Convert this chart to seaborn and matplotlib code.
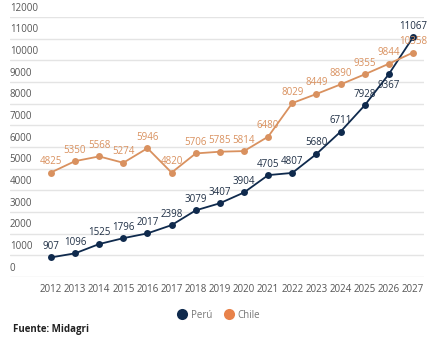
import matplotlib
matplotlib.use("Agg")
import matplotlib.pyplot as plt
from matplotlib.lines import Line2D
import seaborn as sns
import pandas as pd

years = list(range(2012, 2028))
peru = [907, 1096, 1525, 1796, 2017, 2398, 3079, 3407, 3904, 4705, 4807, 5680, 6711, 7928, 9367, 11067]
chile = [4825, 5350, 5568, 5274, 5946, 4820, 5706, 5785, 5814, 6480, 8029, 8449, 8890, 9355, 9844, 10358]
y_ticks = [0, 1000, 2000, 3000, 4000, 5000, 6000, 7000, 8000, 9000, 10000, 11000, 12000]
series_names = ["Perú", "Chile"]

PERU_C = "#0f2a4d"
CHILE_C = "#d9915f"
CHILE_LEGEND = "#e8824a"

sns.set_theme(style="white")
plt.rcParams["font.family"] = ["Open Sans", "DejaVu Sans"]

df = pd.DataFrame({
    "year": years * 2,
    "value": peru + chile,
    "pais": [series_names[0]] * len(years) + [series_names[1]] * len(years),
})

fig = plt.figure(figsize=(4.46, 3.40), dpi=100)
ax = fig.add_axes([0.022, 0.185, 0.929, 0.765])

sns.lineplot(data=df, x="year", y="value", hue="pais",
             palette={"Perú": PERU_C, "Chile": CHILE_C},
             marker="o", markersize=5, markeredgewidth=0, linewidth=1.3,
             legend=False, ax=ax, zorder=3)

ax.set_xlim(2010.3, 2027.46)
ax.set_ylim(0, 12000)
for v in y_ticks:
    ax.axhline(v, color="#e4e4e4", linewidth=1, zorder=0)
    ax.text(2010.3, v + 150, str(v), fontsize=7, color="#555555",
            ha="left", va="bottom", clip_on=False)

ax.set_yticks([])
ax.set_xticks(years)
ax.set_xticklabels([str(y) for y in years], fontsize=7, color="#555555")
ax.tick_params(axis="x", length=0, pad=5)
ax.set_xlabel("")
ax.set_ylabel("")
for s in ax.spines.values():
    s.set_visible(False)

for x, v in zip(years, peru):
    below = (x == 2026)
    ax.annotate(str(v), (x, v), xytext=(0, -4 if below else 4),
                textcoords="offset points", ha="center",
                va="top" if below else "bottom",
                fontsize=7, color="#1f2f45", zorder=4)
for x, v in zip(years, chile):
    ax.annotate(str(v), (x, v), xytext=(0, 4), textcoords="offset points",
                ha="center", va="bottom", fontsize=7, color="#d9915f", zorder=4)

handles = [
    Line2D([], [], linestyle="none", marker="o", markersize=8,
           markerfacecolor=PERU_C, markeredgewidth=0),
    Line2D([], [], linestyle="none", marker="o", markersize=8,
           markerfacecolor=CHILE_LEGEND, markeredgewidth=0),
]
fig.legend(handles, series_names, loc="center", bbox_to_anchor=(0.49, 0.073),
           ncol=2, frameon=False, fontsize=7, labelcolor="#777777",
           handletextpad=0.4, columnspacing=1.2, handlelength=1.0)

fig.text(0.029, 0.032, "Fuente: Midagri", fontsize=7, fontweight="bold",
         color="#222222", ha="left", va="center")

fig.savefig("out.png", dpi=100)
